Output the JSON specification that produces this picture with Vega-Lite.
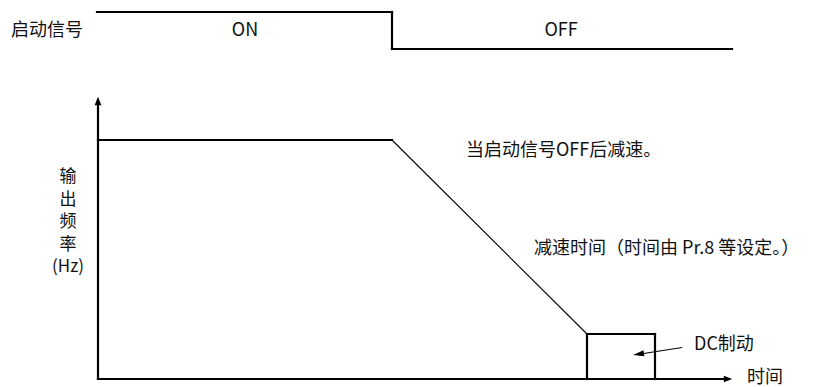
{
  "$schema": "https://vega.github.io/schema/vega-lite/v6.json",
  "width": 840,
  "height": 387,
  "autosize": {"type": "fit", "contains": "padding"},
  "padding": 0,
  "background": "white",
  "config": {"view": {"stroke": null}},
  "datasets": {
    "thick": [
      {"x": 97, "y": 12, "x2": 392, "y2": 12},
      {"x": 392, "y": 12, "x2": 392, "y2": 49},
      {"x": 392, "y": 49, "x2": 732, "y2": 49},
      {"x": 98, "y": 103, "x2": 98, "y2": 379},
      {"x": 98, "y": 379, "x2": 725, "y2": 379},
      {"x": 98, "y": 140, "x2": 392, "y2": 140},
      {"x": 587, "y": 334, "x2": 655, "y2": 334},
      {"x": 655, "y": 334, "x2": 655, "y2": 379},
      {"x": 587, "y": 334, "x2": 587, "y2": 379}
    ],
    "thin": [
      {"x": 392, "y": 140, "x2": 587, "y2": 334},
      {"x": 682, "y": 347.5, "x2": 642, "y2": 353.7}
    ],
    "heads": [
      {"x": 98, "y": 101, "dir": "up"},
      {"x": 728, "y": 379, "dir": "right"}
    ],
    "pointer": [
      {"x": 638.5, "y": 354.2}
    ],
    "leftLabels": [
      {"x": 11, "y": 31, "t": "启动信号"},
      {"x": 466, "y": 151, "t": "当启动信号OFF后减速。"},
      {"x": 534, "y": 249, "t": "减速时间（时间由 Pr.8 等设定。）"},
      {"x": 694, "y": 345, "t": "DC制动"},
      {"x": 747, "y": 378, "t": "时间"}
    ],
    "centerLabels": [
      {"x": 245, "y": 31, "t": "ON"},
      {"x": 561, "y": 31, "t": "OFF"}
    ],
    "axisTitle": [
      {"x": 68, "y": 177, "t": "输\n出\n频\n率\n(Hz)"}
    ]
  },
  "layer": [
    {
      "data": {"name": "thick"},
      "mark": {"type": "rule", "color": "black", "strokeWidth": 2.2, "strokeCap": "square"},
      "encoding": {
        "x": {"field": "x", "type": "quantitative", "scale": {"domain": [0, 840], "nice": false, "zero": false}, "axis": null},
        "y": {"field": "y", "type": "quantitative", "scale": {"domain": [0, 387], "nice": false, "zero": false, "reverse": true}, "axis": null},
        "x2": {"field": "x2"},
        "y2": {"field": "y2"}
      }
    },
    {
      "data": {"name": "thin"},
      "mark": {"type": "rule", "color": "black", "strokeWidth": 1.1},
      "encoding": {
        "x": {"field": "x", "type": "quantitative", "axis": null},
        "y": {"field": "y", "type": "quantitative", "axis": null},
        "x2": {"field": "x2"},
        "y2": {"field": "y2"}
      }
    },
    {
      "data": {"name": "heads"},
      "mark": {"type": "point", "filled": true, "color": "black", "opacity": 1, "size": 70, "strokeWidth": 0},
      "encoding": {
        "x": {"field": "x", "type": "quantitative", "axis": null},
        "y": {"field": "y", "type": "quantitative", "axis": null},
        "shape": {"field": "dir", "type": "nominal", "scale": {"domain": ["up", "right"], "range": ["M0,-1L0.8,1L-0.8,1Z", "M1,0L-1,-0.8L-1,0.8Z"]}, "legend": null}
      }
    },
    {
      "data": {"name": "pointer"},
      "mark": {"type": "point", "filled": true, "color": "black", "opacity": 1, "size": 121, "strokeWidth": 0, "shape": "M-1,0L1,-0.55L1,0.55Z", "angle": 351},
      "encoding": {
        "x": {"field": "x", "type": "quantitative", "axis": null},
        "y": {"field": "y", "type": "quantitative", "axis": null}
      }
    },
    {
      "data": {"name": "leftLabels"},
      "mark": {"type": "text", "font": "Noto Sans CJK SC", "fontSize": 18, "color": "#111", "baseline": "middle", "align": "left"},
      "encoding": {
        "x": {"field": "x", "type": "quantitative", "axis": null},
        "y": {"field": "y", "type": "quantitative", "axis": null},
        "text": {"field": "t"}
      }
    },
    {
      "data": {"name": "centerLabels"},
      "mark": {"type": "text", "font": "Noto Sans CJK SC", "fontSize": 18, "color": "#111", "baseline": "middle", "align": "center"},
      "encoding": {
        "x": {"field": "x", "type": "quantitative", "axis": null},
        "y": {"field": "y", "type": "quantitative", "axis": null},
        "text": {"field": "t"}
      }
    },
    {
      "data": {"name": "axisTitle"},
      "mark": {"type": "text", "font": "Noto Sans CJK SC", "fontSize": 17, "color": "#111", "baseline": "middle", "align": "center", "lineBreak": "\n", "lineHeight": 22.5},
      "encoding": {
        "x": {"field": "x", "type": "quantitative", "axis": null},
        "y": {"field": "y", "type": "quantitative", "axis": null},
        "text": {"field": "t"}
      }
    }
  ]
}
